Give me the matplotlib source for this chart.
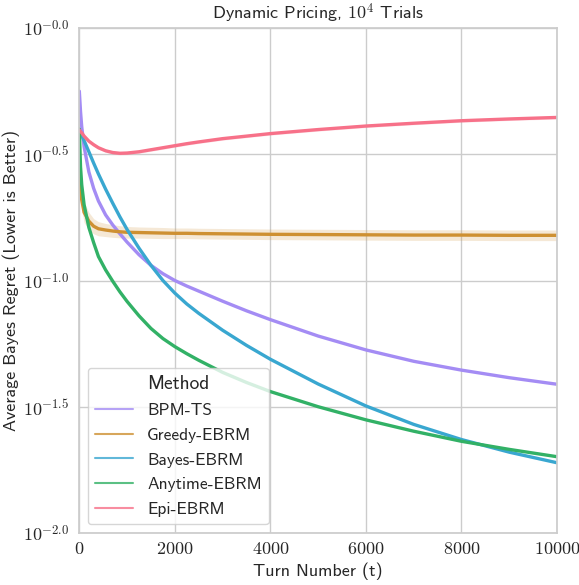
import numpy as np
import matplotlib
matplotlib.use("Agg")
import matplotlib.pyplot as plt
import seaborn as sns

sns.set_theme(style="whitegrid")
plt.rcParams["font.family"] = ["cmss10", "DejaVu Sans"]
plt.rcParams["mathtext.fontset"] = "cm"
plt.rcParams["axes.formatter.use_mathtext"] = True

# turn numbers and log10 of average Bayes regret
turns = [0, 25, 50, 100, 200, 300, 400, 550, 700, 850, 1000, 1250, 1500, 1750,
         2000, 2250, 2500, 3000, 3500, 4000, 5000, 6000, 7000, 8000, 9000, 10000]
bpm_ts = [-0.25, -0.33, -0.39, -0.47, -0.57, -0.635, -0.685, -0.74, -0.78, -0.815, -0.848, -0.898, -0.94, -0.973,
          -1.00, -1.022, -1.042, -1.082, -1.12, -1.155, -1.22, -1.275, -1.32, -1.355, -1.385, -1.411]
greedy = [-0.55, -0.63, -0.68, -0.73, -0.765, -0.785, -0.795, -0.80, -0.804, -0.807, -0.809, -0.81, -0.811, -0.812,
          -0.813, -0.813, -0.814, -0.815, -0.816, -0.817, -0.818, -0.819, -0.82, -0.82, -0.821, -0.821]
greedy_err = [0.02, 0.035, 0.04, 0.04, 0.035, 0.03, 0.028, 0.026, 0.025, 0.024, 0.023, 0.022, 0.022, 0.022,
              0.021, 0.021, 0.021, 0.021, 0.021, 0.021, 0.021, 0.021, 0.021, 0.021, 0.021, 0.021]
bayes = [-0.404, -0.414, -0.425, -0.446, -0.49, -0.535, -0.578, -0.638, -0.694, -0.748, -0.798, -0.872, -0.94, -1.0,
         -1.05, -1.093, -1.13, -1.197, -1.257, -1.312, -1.41, -1.497, -1.57, -1.63, -1.68, -1.722]
anytime = [-0.40, -0.55, -0.62, -0.70, -0.79, -0.85, -0.905, -0.958, -1.003, -1.045, -1.083, -1.14, -1.19, -1.23,
           -1.262, -1.29, -1.316, -1.364, -1.404, -1.44, -1.50, -1.552, -1.597, -1.637, -1.669, -1.698]
epi = [-0.404, -0.41, -0.415, -0.428, -0.448, -0.462, -0.474, -0.486, -0.493, -0.496, -0.495, -0.49, -0.482, -0.474,
       -0.466, -0.458, -0.451, -0.438, -0.428, -0.418, -0.402, -0.388, -0.377, -0.367, -0.36, -0.354]

methods = ["BPM-TS", "Greedy-EBRM", "Bayes-EBRM", "Anytime-EBRM", "Epi-EBRM"]
series = [bpm_ts, greedy, bayes, anytime, epi]
pal = sns.color_palette("husl", 8)
colors = [pal[6], pal[1], pal[5], pal[3], pal[0]]

fig, ax = plt.subplots(figsize=(5.79, 5.85), dpi=100)
t = np.array(turns)
for name, vals, c in zip(methods, series, colors):
    v = np.array(vals)
    ax.plot(t, 10 ** v, color=c, lw=2.4, label=name)
    if name == "Greedy-EBRM":
        e = np.array(greedy_err)
        ax.fill_between(t, 10 ** (v - e), 10 ** (v + e), color=c, alpha=0.2, lw=0)
    if name == "Epi-EBRM":
        ax.fill_between(t, 10 ** (v - 0.006), 10 ** (v + 0.006), color=c, alpha=0.2, lw=0)

ax.set_yscale("log")
ax.set_ylim(0.01, 1)
ax.set_xlim(0, 10000)
yt = [-2.0, -1.5, -1.0, -0.5, 0.0]
ax.set_yticks([10 ** v for v in yt])
ax.set_yticklabels([r"$10^{-%.1f}$" % abs(v) for v in yt])
ax.yaxis.set_minor_locator(matplotlib.ticker.NullLocator())
xt = [0, 2000, 4000, 6000, 8000, 10000]
ax.set_xticks(xt)
ax.set_xticklabels([r"$%d$" % v for v in xt])
ax.tick_params(labelsize=13, length=0)
ax.tick_params(axis="y", pad=7)
ax.tick_params(axis="x", pad=6)

ax.set_xlabel("Turn Number (t)", fontsize=13)
ax.set_ylabel("Average Bayes Regret (Lower is Better)", fontsize=13, labelpad=2)
ax.set_title(r"Dynamic Pricing, $10^4$ Trials", fontsize=13)

leg = ax.legend(title="Method", loc="lower left", fontsize=12.5, title_fontsize=14,
                framealpha=0.8, handlelength=2.2, labelspacing=0.56, borderpad=0.4)
for h in leg.legend_handles:
    h.set_linewidth(1.5)
    h.set_alpha(0.8)

fig.subplots_adjust(left=0.137, right=0.962, top=0.952, bottom=0.089)
fig.savefig("out.png", dpi=100)
